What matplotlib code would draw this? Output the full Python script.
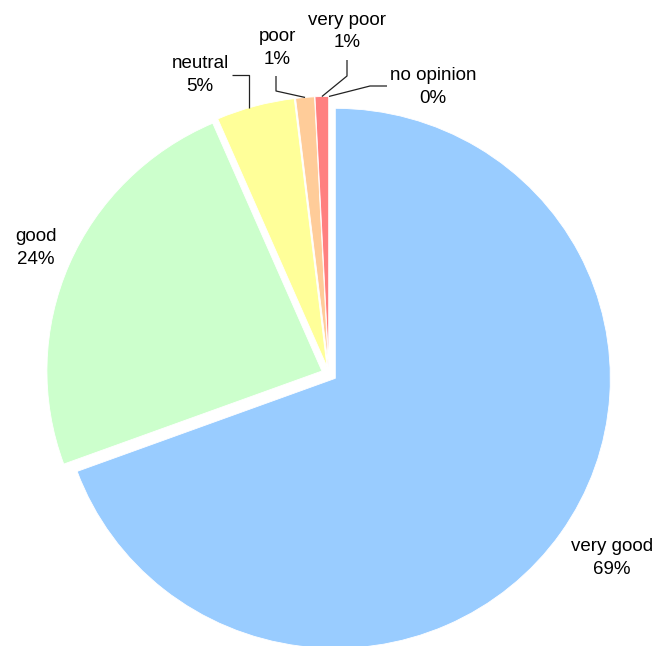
import matplotlib
matplotlib.use('Agg')
import matplotlib.pyplot as plt
import numpy as np

categories = ['very good', 'good', 'neutral', 'poor', 'very poor', 'no opinion']
values = [69.4, 24.1, 4.6, 1.1, 0.8, 0.0]
pct_labels = ['69%', '24%', '5%', '1%', '1%', '0%']
colors = ['#99CCFF', '#CCFFCC', '#FFFF99', '#FFCC99', '#FF8080', '#CC99FF']

plt.rcParams['font.family'] = ['Liberation Sans', 'DejaVu Sans']

W, H = 668, 646
CX, CY = 329, 374      # pie centre (pixels)
RX, RY = 275, 270      # pie radii (pixels)


def P(px, py):
    return ((px - CX) / RX, (CY - py) / RY)


fig = plt.figure(figsize=(W / 100, H / 100), dpi=100)
ax = fig.add_axes([0, 0, 1, 1])

explode = [0.028] * len(values)
wedges, _ = ax.pie(values, explode=explode, colors=colors, startangle=90,
                   counterclock=False, radius=1, center=(0, 0),
                   wedgeprops=dict(edgecolor='white', linewidth=0.6))

ax.set_xlim(-CX / RX, (W - CX) / RX)
ax.set_ylim(-(H - CY) / RY, CY / RY)
ax.set_aspect('auto')
ax.axis('off')


def anchor(w):
    mid = np.deg2rad((w.theta1 + w.theta2) / 2)
    cx, cy = w.center
    return (cx + w.r * np.cos(mid), cy + w.r * np.sin(mid))


def arc_at_x(w, xd):
    cx, cy = w.center
    t = np.arccos(np.clip((xd - cx) / w.r, -1, 1))
    return (xd, cy + w.r * np.sin(t))


fs = 13.5
text_pos = {
    'very good': P(612, 558),
    'good': P(36, 248),
    'neutral': P(200, 75),
    'poor': P(277, 48),
    'very poor': P(347, 31.5),
    'no opinion': P(433, 87),
}
for i, cat in enumerate(categories):
    x, y = text_pos[cat]
    ax.text(x, y, f"{cat}\n{pct_labels[i]}", ha='center', va='center',
            fontsize=fs, linespacing=1.45, color='black')

lk = dict(color='#222222', lw=0.9, solid_capstyle='butt', clip_on=False)

# neutral leader
ax_, ay_ = arc_at_x(wedges[2], P(249, 0)[0])
pts = [(ax_, ay_), P(249, 75), P(232, 75)]
ax.plot(*zip(*pts), **lk)

# poor leader
ax_, ay_ = anchor(wedges[3])
pts = [P(276, 76), P(276, 91), (ax_, ay_)]
ax.plot(*zip(*pts), **lk)

# very poor leader
ax_, ay_ = anchor(wedges[4])
pts = [P(347, 60), P(347, 76), (ax_, ay_)]
ax.plot(*zip(*pts), **lk)

# no opinion leader
ax_, ay_ = anchor(wedges[5])
pts = [(ax_, ay_), P(370, 86), P(387, 86)]
ax.plot(*zip(*pts), **lk)

fig.savefig('out.png', dpi=100, facecolor='white')
